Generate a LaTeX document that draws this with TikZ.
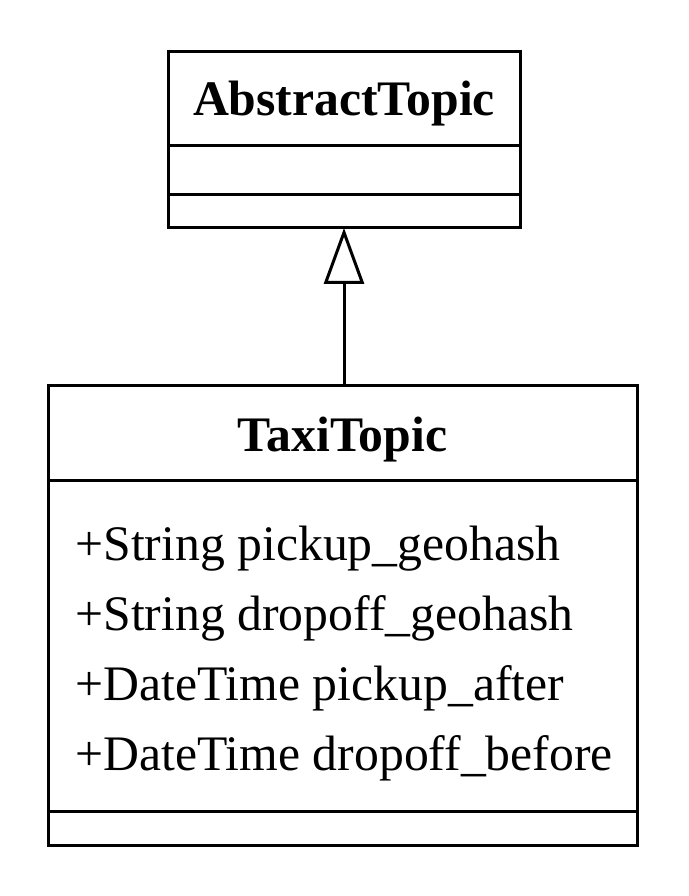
\documentclass[tikz,border=0pt]{standalone}
\usepackage{fontspec}
\setmainfont{Liberation Serif}
\usetikzlibrary{arrows.meta}
\begin{document}
\begin{tikzpicture}[x=1pt,y=1pt, line width=3pt,
  box/.style={draw, rectangle, inner sep=0pt, outer sep=0pt, anchor=north west},
  txt/.style={font=\fontsize{49.7}{58}\selectfont, anchor=base west, inner sep=0pt},
  ttl/.style={font=\bfseries\fontsize{49.7}{58}\selectfont, anchor=base, inner sep=0pt}]
\useasboundingbox (0,0) rectangle (688,896);
% AbstractTopic
\node[box, minimum width=352pt, minimum height=176pt] (abs) at (168,844) {};
\draw ([yshift=-94pt]abs.north west) -- ([yshift=-94pt]abs.north east);
\draw ([yshift=-143pt]abs.north west) -- ([yshift=-143pt]abs.north east);
\node[ttl] (absname) at (344,780) {AbstractTopic};
% TaxiTopic
\node[box, minimum width=589pt, minimum height=460pt] (taxi) at (48,510) {};
\draw ([yshift=-95pt]taxi.north west) -- ([yshift=-95pt]taxi.north east);
\draw ([yshift=-426pt]taxi.north west) -- ([yshift=-426pt]taxi.north east);
\node[ttl] (taxiname) at (342.5,444) {TaxiTopic};
\node[txt] (a1) at (74,335) {+String pickup\_geohash};
\node[txt] (a2) at (74,265) {+String dropoff\_geohash};
\node[txt] (a3) at (74,195) {+DateTime pickup\_after};
\node[txt] (a4) at (74,125) {+DateTime dropoff\_before};
% generalization
\draw[-{Triangle[open,width=40pt,length=56pt]}] (taxi.north -| abs.south) -- (abs.south);
\end{tikzpicture}
\end{document}
